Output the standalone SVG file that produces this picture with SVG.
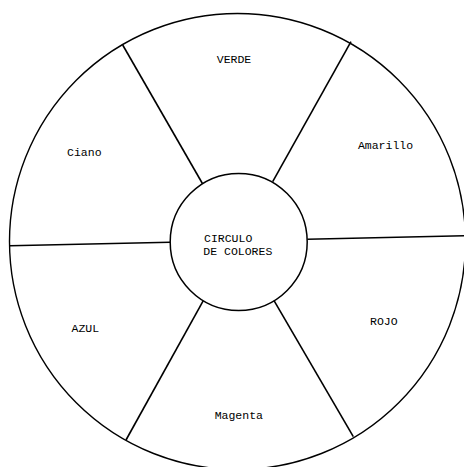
<svg xmlns="http://www.w3.org/2000/svg" width="464" height="467" viewBox="0 0 464 467">
<style>
.ring{fill:none;stroke:#000;stroke-width:1.4}
.hub{fill:#fff;stroke:#000;stroke-width:1.5}
.spoke{stroke:#000;stroke-width:1.6;fill:none}
.lbl{font-family:"Liberation Mono","DejaVu Sans Mono",monospace;font-size:11.5px;fill:#000}
</style>
<rect width="464" height="467" fill="#fff"/>
<g id="wheel">
<circle class="ring" cx="237.5" cy="241.5" r="228"/>
</g>
<g id="connectors">
<line class="spoke" x1="122.7" y1="45" x2="202.7" y2="184"/>
<line class="spoke" x1="351" y1="41.7" x2="272.7" y2="181.7"/>
<line class="spoke" x1="10" y1="245.7" x2="170" y2="242.3"/>
<line class="spoke" x1="307.3" y1="239.3" x2="465" y2="235.7"/>
<line class="spoke" x1="203.3" y1="300.7" x2="126" y2="440"/>
<line class="spoke" x1="273.3" y1="299.3" x2="353.3" y2="436.7"/>
</g>
<g id="hub">
<circle class="hub" cx="238.7" cy="242" r="68.5"/>
<text class="lbl" x="204" y="242">CIRCULO</text>
<text class="lbl" x="203.3" y="255">DE COLORES</text>
</g>
<g id="verde"><text class="lbl" x="234" y="63.3" text-anchor="middle">VERDE</text></g>
<g id="amarillo"><text class="lbl" x="385.5" y="149.3" text-anchor="middle">Amarillo</text></g>
<g id="ciano"><text class="lbl" x="84.3" y="155.7" text-anchor="middle">Ciano</text></g>
<g id="rojo"><text class="lbl" x="383.8" y="325" text-anchor="middle">ROJO</text></g>
<g id="azul"><text class="lbl" x="85.3" y="331.7" text-anchor="middle">AZUL</text></g>
<g id="magenta"><text class="lbl" x="238.8" y="419" text-anchor="middle">Magenta</text></g>
</svg>
